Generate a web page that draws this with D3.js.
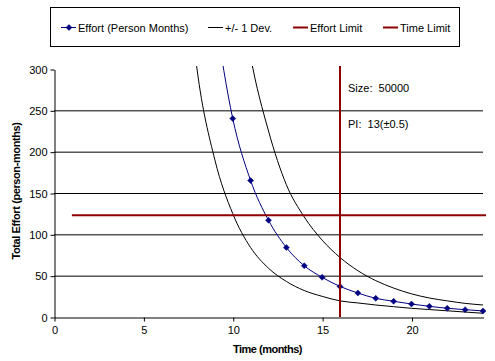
<!DOCTYPE html>
<html>
<head>
<meta charset="utf-8">
<script src="https://cdn.jsdelivr.net/npm/d3@7"></script>
<style>
  body { margin: 0; background: #fff; }
  svg { font-family: "Liberation Sans", Arial, sans-serif; }
  text { white-space: pre; }
</style>
</head>
<body>
<div id="chart"></div>
<script>
// values
const effortMonths = [9, 10, 11, 12, 13, 14, 15, 16, 17, 18, 19, 20, 21, 22, 23, 24];
const effortValues = [366, 240, 165, 117, 84, 62, 48, 37, 29, 22.6, 19, 15.7, 12.9, 10.5, 8.9, 7.3];

const lowerMonths = [7, 8, 9, 10, 11, 12, 13, 14, 15, 16, 17, 18, 19, 20, 21, 22, 23, 24];
const lowerValues = [515, 300, 190, 125, 84, 59, 43, 32, 25, 19.5, 17, 14.5, 12.5, 10.5, 9, 7.5, 6, 4.5];

const upperMonths = [10, 11, 12, 13, 14, 15, 16, 17, 18, 19, 20, 21, 22, 23, 24];
const upperValues = [460, 315, 225, 160, 121, 93, 72, 56, 44, 35, 28, 23, 19.5, 16.5, 14.5];

const effortLimit = 123;
const effortLimitStart = 1;
const timeLimit = 16;

const xTicks = [0, 5, 10, 15, 20];
const yTicks = [0, 50, 100, 150, 200, 250, 300];
const legendLabels = ["Effort (Person Months)", "+/- 1 Dev.", "Effort Limit", "Time Limit"];
const notes = ["Size:  50000", "PI:  13(\u00b10.5)"];

const W = 495, H = 361;
const margin = { top: 69, right: 12, bottom: 44, left: 54 };
const width = W - margin.left - margin.right,
      height = H - margin.top - margin.bottom;

const navy = "#000080", darkRed = "#8f0000";

const svg = d3.select("#chart").append("svg")
    .attr("width", W).attr("height", H);

const g = svg.append("g")
    .attr("transform", "translate(" + margin.left + "," + margin.top + ")");

const x = d3.scaleLinear().domain([0, 24]).range([0, width]);
const y = d3.scaleLinear().domain([0, 300]).range([height, 0]);

svg.append("defs").append("clipPath").attr("id", "clip")
  .append("rect").attr("x", 0).attr("y", -3).attr("width", width + 3).attr("height", height + 3);

// gridlines
g.selectAll(".grid").data(yTicks.filter(d => d > 0 && d < 300))
  .enter().append("line")
    .attr("x1", 0).attr("x2", width)
    .attr("y1", d => y(d) + 0.5).attr("y2", d => y(d) + 0.5)
    .attr("stroke", "#000").attr("stroke-width", 1);

// axes
const yAxis = g.append("g")
    .attr("transform", "translate(0.5,0.5)")
    .call(d3.axisLeft(y).tickValues(yTicks).tickSize(4).tickSizeOuter(0));
const xAxis = g.append("g")
    .attr("transform", "translate(0.5," + (height + 0.5) + ")")
    .call(d3.axisBottom(x).tickValues(xTicks).tickSize(4).tickSizeOuter(0));
[xAxis, yAxis].forEach(a => {
  a.select(".domain").attr("stroke", "#000");
  a.selectAll(".tick line").attr("stroke", "#000");
  a.selectAll("text").attr("fill", "#000").style("font-size", "11px")
    .style("font-family", "Liberation Sans, Arial, sans-serif");
});
yAxis.selectAll("text").attr("x", -7);
xAxis.selectAll("text").attr("y", 9);

const plot = g.append("g").attr("clip-path", "url(#clip)");

const line = d3.line()
    .x(d => x(d[0])).y(d => y(d[1]))
    .curve(d3.curveMonotoneX);

const lower = lowerMonths.map((m, i) => [m, lowerValues[i]]);
const upper = upperMonths.map((m, i) => [m, upperValues[i]]);
const effort = effortMonths.map((m, i) => [m, effortValues[i]]);

[lower, upper].forEach(s => {
  plot.append("path").datum(s).attr("d", line)
    .attr("fill", "none").attr("stroke", "#000").attr("stroke-width", 1);
});

plot.append("path").datum(effort).attr("d", line)
  .attr("fill", "none").attr("stroke", navy).attr("stroke-width", 1);

// small square diamond marker, like the spreadsheet one
const diamond = "M0,-3L3,0L0,3L-3,0Z";
plot.selectAll(".mk").data(effort.filter(d => d[1] <= 300))
  .enter().append("path")
    .attr("d", diamond)
    .attr("transform", d => "translate(" + x(d[0]) + "," + y(d[1]) + ")")
    .attr("fill", navy).attr("stroke", navy).attr("stroke-width", 0.5);

// limits
g.append("line")
  .attr("x1", x(effortLimitStart)).attr("x2", width + 3)
  .attr("y1", y(effortLimit)).attr("y2", y(effortLimit))
  .attr("stroke", darkRed).attr("stroke-width", 2);
g.append("line")
  .attr("x1", x(timeLimit)).attr("x2", x(timeLimit))
  .attr("y1", -3).attr("y2", height)
  .attr("stroke", darkRed).attr("stroke-width", 2);

// notes
notes.forEach((t, i) => {
  g.append("text").attr("x", x(timeLimit) + 8).attr("y", 23 + i * 36)
    .attr("xml:space", "preserve")
    .style("font-size", "11px").text(t);
});

// axis titles
svg.append("text")
  .attr("x", margin.left + width / 2 - 1).attr("y", 353)
  .attr("text-anchor", "middle")
  .style("font-size", "11px").style("font-weight", "bold")
  .style("letter-spacing", "-0.5px")
  .text("Time (months)");
svg.append("text")
  .attr("transform", "translate(20,191) rotate(-90)")
  .attr("text-anchor", "middle")
  .style("font-size", "11px").style("font-weight", "bold")
  .style("letter-spacing", "-0.4px")
  .text("Total Effort (person-months)");

// legend
const legend = svg.append("g");
legend.append("rect")
  .attr("x", 50.5).attr("y", 7.5).attr("width", 409).attr("height", 39)
  .attr("fill", "#fff").attr("stroke", "#000").attr("stroke-width", 1);

const legendItems = [
  { x: 61, color: navy, w: 1, marker: true },
  { x: 208, color: "#000", w: 1 },
  { x: 293, color: darkRed, w: 2 },
  { x: 383, color: darkRed, w: 2 }
];
legendItems.forEach((d, i) => {
  legend.append("line")
    .attr("x1", d.x).attr("x2", d.x + 15)
    .attr("y1", 27.5).attr("y2", 27.5)
    .attr("stroke", d.color).attr("stroke-width", d.w);
  if (d.marker) {
    legend.append("path").attr("d", diamond)
      .attr("transform", "translate(" + (d.x + 8) + ",27.5)")
      .attr("fill", navy).attr("stroke", navy).attr("stroke-width", 0.5);
  }
  legend.append("text")
    .attr("x", d.x + 17).attr("y", 32)
    .style("font-size", "11px")
    .text(legendLabels[i]);
});
</script>
</body>
</html>
